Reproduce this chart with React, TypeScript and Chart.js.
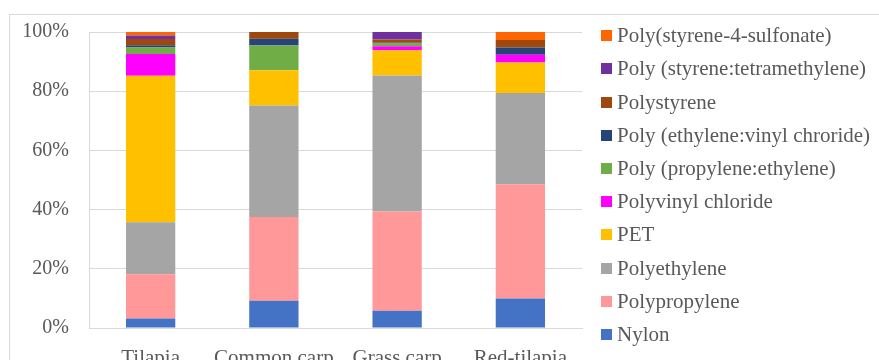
import React, { useEffect, useRef } from "react";
import { Chart, registerables } from "chart.js";

Chart.register(...registerables);

// Fish species along the x axis
const categories = ["Tilapia", "Common carp", "Grass carp", "Red-tilapia"];

// Share of each polymer type (%) per species, bottom of the stack first
const nylon = [3.2, 9.2, 5.8, 10.0];
const polypropylene = [15.0, 28.3, 33.6, 38.6];
const polyethylene = [17.5, 37.7, 45.9, 30.8];
const pet = [49.5, 11.9, 8.5, 10.3];
const polyvinylChloride = [7.4, 0, 1.4, 2.6];
const polyPropyleneEthylene = [2.2, 8.3, 0.9, 0];
const polyEthyleneVinylChloride = [0.7, 2.3, 0.3, 2.5];
const polystyrene = [2.1, 2.3, 1.1, 2.5];
const polyStyreneTetramethylene = [1.2, 0, 2.5, 0];
const polyStyreneSulfonate = [1.2, 0, 0, 2.7];

const seriesNames = [
  "Nylon",
  "Polypropylene",
  "Polyethylene",
  "PET",
  "Polyvinyl chloride",
  "Poly (propylene:ethylene)",
  "Poly (ethylene:vinyl chroride)",
  "Polystyrene",
  "Poly (styrene:tetramethylene)",
  "Poly(styrene-4-sulfonate)",
];
const seriesValues = [
  nylon,
  polypropylene,
  polyethylene,
  pet,
  polyvinylChloride,
  polyPropyleneEthylene,
  polyEthyleneVinylChloride,
  polystyrene,
  polyStyreneTetramethylene,
  polyStyreneSulfonate,
];
const seriesColors = [
  "#4472C4",
  "#FF9999",
  "#A5A5A5",
  "#FFC000",
  "#FF00FF",
  "#70AD47",
  "#264478",
  "#9E480E",
  "#7030A0",
  "#FF6600",
];

// Axis ticks in percent
const yTicks = [0, 20, 40, 60, 80, 100];

const W = 879;
const H = 360;
const FONT = "'Times New Roman', 'Liberation Serif', serif";
const TEXT = "#595959";
const GRID = "#D9D9D9";

// White background and the outer frame of the chart area
const framePlugin = {
  id: "frame",
  beforeDraw(chart: any) {
    const ctx = chart.ctx;
    ctx.save();
    ctx.fillStyle = "#ffffff";
    ctx.fillRect(0, 0, chart.width, chart.height);
    ctx.strokeStyle = GRID;
    ctx.lineWidth = 1;
    ctx.strokeRect(9.5, 14.5, chart.width + 20, chart.height + 20);
    ctx.restore();
  },
};

// Legend column on the right, listed from the top of the stack down
const legendPlugin = {
  id: "sideLegend",
  afterDraw(chart: any) {
    const ctx = chart.ctx;
    const datasets = chart.data.datasets;
    ctx.save();
    ctx.font = `21px ${FONT}`;
    ctx.textBaseline = "middle";
    ctx.textAlign = "left";
    const n = datasets.length;
    for (let i = 0; i < n; i++) {
      const ds = datasets[n - 1 - i];
      const cy = 35.7 + i * 33.2;
      ctx.fillStyle = ds.backgroundColor;
      ctx.fillRect(601, Math.round(cy - 5.5), 11, 11);
      ctx.fillStyle = TEXT;
      ctx.fillText(ds.label, 617, cy + 1);
    }
    ctx.restore();
  },
};

export default function App() {
  const canvasRef = useRef<HTMLCanvasElement | null>(null);

  useEffect(() => {
    const canvas = canvasRef.current;
    if (!canvas) return;
    const chart = new Chart(canvas, {
      type: "bar",
      data: {
        labels: categories,
        datasets: seriesNames.map((name, i) => ({
          label: name,
          data: seriesValues[i],
          backgroundColor: seriesColors[i],
          borderWidth: 0,
          barPercentage: 0.4,
          categoryPercentage: 1,
        })),
      },
      options: {
        responsive: false,
        animation: false,
        devicePixelRatio: 1,
        layout: { padding: { left: 9, top: 31, right: W - 582, bottom: 0 } },
        plugins: {
          legend: { display: false },
          tooltip: { enabled: false },
        },
        scales: {
          x: {
            stacked: true,
            grid: { display: false },
            border: { display: true, color: GRID, width: 1 },
            ticks: {
              color: TEXT,
              font: { family: FONT, size: 21 },
              padding: 10,
              maxRotation: 0,
              autoSkip: false,
            },
            afterFit: (scale: any) => {
              scale.height = 32;
            },
          },
          y: {
            stacked: true,
            min: 0,
            max: 100,
            afterBuildTicks: (scale: any) => {
              scale.ticks = yTicks.map((v) => ({ value: v }));
            },
            grid: { color: GRID, lineWidth: 1, drawTicks: false },
            border: { display: true, color: GRID, width: 1 },
            ticks: {
              color: TEXT,
              font: { family: FONT, size: 20 },
              padding: 20,
              callback: (v: any) => `${v}%`,
            },
            afterFit: (scale: any) => {
              scale.width = 80;
            },
          },
        },
      },
      plugins: [framePlugin, legendPlugin],
    });
    return () => chart.destroy();
  }, []);

  return (
    <div style={{ position: "fixed", left: 0, top: 0, width: W, height: H, background: "#fff" }}>
      <canvas ref={canvasRef} width={W} height={H} style={{ display: "block", width: W, height: H }} />
    </div>
  );
}
